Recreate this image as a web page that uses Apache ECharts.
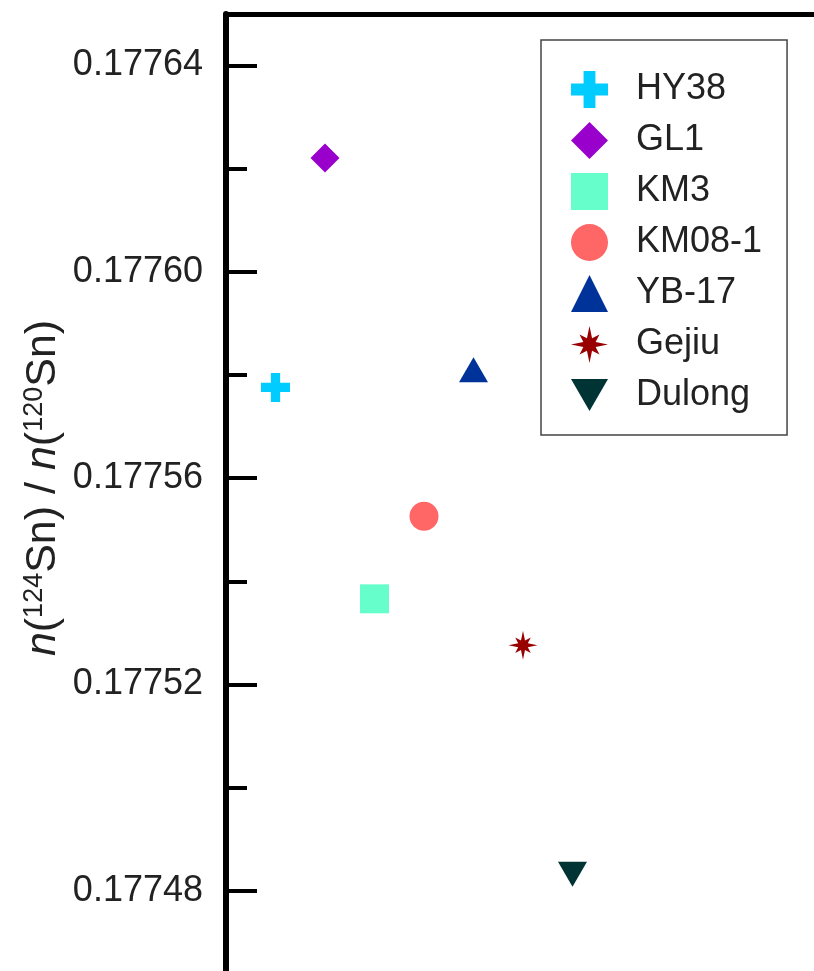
<!DOCTYPE html>
<html>
<head>
<meta charset="utf-8">
<script src="https://cdn.jsdelivr.net/npm/echarts@6/dist/echarts.min.js"></script>
<style>
  html, body { margin: 0; padding: 0; background: #fff; }
  #chart { width: 814px; height: 971px; }
</style>
</head>
<body>
<div id="chart"></div>
<script>
// sample names, position along x, and n(124Sn)/n(120Sn) ratios
const sampleNames = ['HY38', 'GL1', 'KM3', 'KM08-1', 'YB-17', 'Gejiu', 'Dulong']
const samplePos = [1, 2, 3, 4, 5, 6, 7]
const snRatio = [0.1775776, 0.1776221, 0.1775366, 0.1775526, 0.1775810, 0.1775276, 0.1774832]

// y axis range and tick steps
const yMin = 0.17744
const yMax = 0.17765
const majorStep = 0.00004
const minorStep = 0.00002

const font = '"Liberation Sans", Arial, sans-serif'

// marker look for each sample
const markers = [
  { color: '#00CCFF', symbol: 'path://M34,0H66V34H100V66H66V100H34V66H0V34H34Z', size: 29 },
  { color: '#9900CC', symbol: 'diamond', size: 29 },
  { color: '#66FFCC', symbol: 'rect', size: 29 },
  { color: '#FF6666', symbol: 'circle', size: 29 },
  { color: '#003399', symbol: 'triangle', size: [29, 25] },
  { color: '#990000', symbol: 'path://M50,0L56.9,33.4L76.9,23.1L66.6,43.1L100,50L66.6,56.9L76.9,76.9L56.9,66.6L50,100L43.1,66.6L23.1,76.9L33.4,56.9L0,50L33.4,43.1L23.1,23.1L43.1,33.4Z', size: 29 },
  { color: '#003333', symbol: 'path://M0,0L100,0L50,86Z', size: [29, 25] },
]

const chart = echarts.init(document.getElementById('chart'))

const series = sampleNames.map((name, i) => ({
  name: name,
  type: 'scatter',
  symbol: markers[i].symbol,
  symbolSize: markers[i].size,
  itemStyle: { color: markers[i].color, opacity: 1 },
  data: [[samplePos[i], snRatio[i]]],
}))

const option = {
  animation: false,
  backgroundColor: '#fff',
  grid: {
    left: 226,
    top: 14,
    width: 594,
    height: 1083,
    containLabel: false,
    outerBoundsMode: 'none',
  },
  xAxis: {
    type: 'value',
    position: 'top',
    min: 0,
    max: 12,
    axisLine: { show: true, lineStyle: { color: '#000', width: 5 } },
    axisTick: { show: false },
    axisLabel: { show: false },
    splitLine: { show: false },
  },
  yAxis: [
    {
      // axis line + short ticks
      type: 'value',
      position: 'left',
      min: yMin,
      max: yMax,
      interval: minorStep,
      axisLine: { show: true, lineStyle: { color: '#000', width: 6 } },
      axisTick: { show: true, inside: true, length: 21, lineStyle: { color: '#000', width: 4 } },
      axisLabel: { show: false },
      splitLine: { show: false },
    },
    {
      // long ticks + labels
      type: 'value',
      position: 'left',
      offset: 0,
      min: yMin,
      max: yMax,
      interval: majorStep,
      axisLine: { show: false },
      axisTick: { show: true, inside: true, length: 31, lineStyle: { color: '#000', width: 4 } },
      axisLabel: {
        show: true,
        margin: 23,
        fontSize: 36,
        fontFamily: font,
        color: '#222',
        showMaxLabel: false,
        formatter: (v) => v.toFixed(5),
      },
      splitLine: { show: false },
    },
  ],
  legend: {
    orient: 'vertical',
    left: 541,
    top: 40,
    padding: [31, 25, 22, 30],
    itemGap: 14,
    itemWidth: 37,
    itemHeight: 37,
    borderColor: '#444',
    borderWidth: 1.5,
    selectedMode: false,
    textStyle: { fontSize: 36, fontFamily: font, color: '#222', padding: [0, 0, 0, 23] },
    data: sampleNames,
  },
  graphic: [
    {
      type: 'text',
      x: 43,
      y: 488,
      rotation: Math.PI / 2,
      style: {
        text: '{i|n}({s|124}Sn) / {i|n}({s|120}Sn)',
        align: 'center',
        verticalAlign: 'middle',
        fontSize: 43,
        fontFamily: font,
        fill: '#222',
        rich: {
          i: { fontStyle: 'italic', fontSize: 43, fontFamily: font, fill: '#222' },
          s: { fontSize: 27, fontFamily: font, verticalAlign: 'top', fill: '#222' },
        },
      },
    },
  ],
  series: series,
}

chart.setOption(option)
</script>
</body>
</html>
